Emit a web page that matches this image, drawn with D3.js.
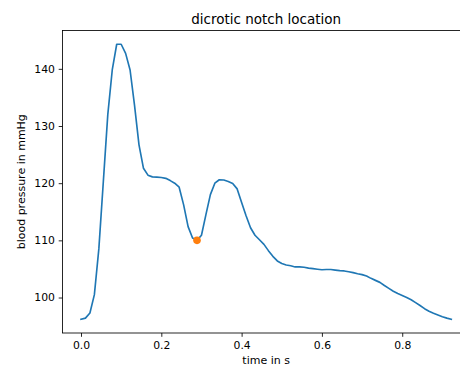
<!DOCTYPE html>
<html>
<head>
<meta charset="utf-8">
<script src="https://cdn.jsdelivr.net/npm/d3@7"></script>
<style>
  body { margin: 0; background: #fff; }
  text { font-family: "DejaVu Sans", sans-serif; fill: #000; }
</style>
</head>
<body>
<svg id="chart" width="460" height="367"></svg>
<script>
// sample times (s) and blood pressure readings (mmHg)
const times = [0, 0.0111, 0.0222, 0.0333, 0.0444, 0.0556, 0.0667, 0.0778, 0.0889, 0.1,
  0.1111, 0.1222, 0.1333, 0.1444, 0.1556, 0.1667, 0.1778, 0.1889, 0.2, 0.2111,
  0.2222, 0.2333, 0.2444, 0.2556, 0.2667, 0.2778, 0.2889, 0.3, 0.3111, 0.3222,
  0.3333, 0.3444, 0.3556, 0.3667, 0.3778, 0.3889, 0.4, 0.4111, 0.4222, 0.4333,
  0.4444, 0.4556, 0.4667, 0.4778, 0.4889, 0.5, 0.5111, 0.5222, 0.5333, 0.5444,
  0.5556, 0.5667, 0.5778, 0.5889, 0.6, 0.6111, 0.6222, 0.6333, 0.6444, 0.6556,
  0.6667, 0.6778, 0.6889, 0.7, 0.7111, 0.7222, 0.7333, 0.7444, 0.7556, 0.7667,
  0.7778, 0.7889, 0.8, 0.8111, 0.8222, 0.8333, 0.8444, 0.8556, 0.8667, 0.8778,
  0.8889, 0.9, 0.9111, 0.9222];
const pressure = [96.2, 96.4, 97.3, 100.5, 108.5, 120.3, 132.0, 139.8, 144.3, 144.3,
  142.7, 139.8, 133.6, 126.7, 122.6, 121.4, 121.1, 121.05, 121.0, 120.85,
  120.45, 120.0, 119.3, 116.2, 112.4, 110.4, 110.0, 110.9, 114.5, 118.0,
  120.0, 120.6, 120.55, 120.3, 119.95, 119.0, 116.6, 114.3, 112.2, 110.9,
  110.1, 109.3, 108.2, 107.2, 106.4, 105.95, 105.7, 105.55, 105.35, 105.35,
  105.3, 105.15, 105.05, 104.95, 104.85, 104.9, 104.9, 104.8, 104.7, 104.65,
  104.5, 104.35, 104.15, 104.0, 103.75, 103.35, 103.0, 102.65, 102.1, 101.6,
  101.1, 100.7, 100.35, 100.0, 99.6, 99.1, 98.6, 98.05, 97.6, 97.25,
  96.95, 96.65, 96.4, 96.2];
const notchTime = [0.2889];
const notchPressure = [110.0];
const xTicks = [0, 0.2, 0.4, 0.6, 0.8];
const yTicks = [100, 110, 120, 130, 140];

const svg = d3.select("#chart");
// axes box runs past the right edge, like the cropped original
const margin = { top: 30.5, left: 62.5, right: 469.8, bottom: 333 };

// matplotlib-style 5% padding
function padded(ext) {
  const s = ext[1] - ext[0];
  return [ext[0] - s * 0.05, ext[1] + s * 0.05];
}

const x = d3.scaleLinear()
  .domain(padded(d3.extent(times)))
  .range([margin.left, margin.right]);
const y = d3.scaleLinear()
  .domain(padded(d3.extent(pressure)))
  .range([margin.bottom, margin.top]);

// x axis
const xAxis = svg.append("g")
  .attr("transform", `translate(0, ${margin.bottom})`)
  .call(d3.axisBottom(x).tickValues(xTicks).tickFormat(d3.format(".1f"))
    .tickSize(3.8).tickSizeOuter(0).tickPadding(4.5));
xAxis.select(".domain").remove();
xAxis.selectAll(".tick line").attr("stroke", "#000").attr("stroke-width", 0.85);
xAxis.selectAll(".tick text").style("font-size", "10.8px").attr("fill", "#000");

// y axis
const yAxis = svg.append("g")
  .attr("transform", `translate(${margin.left}, 0)`)
  .call(d3.axisLeft(y).tickValues(yTicks)
    .tickSize(3.8).tickSizeOuter(0).tickPadding(3.8));
yAxis.select(".domain").remove();
yAxis.selectAll(".tick line").attr("stroke", "#000").attr("stroke-width", 0.85);
yAxis.selectAll(".tick text").style("font-size", "10.8px").attr("fill", "#000");

// frame
svg.append("rect")
  .attr("x", margin.left)
  .attr("y", margin.top)
  .attr("width", margin.right - margin.left)
  .attr("height", margin.bottom - margin.top)
  .attr("fill", "none")
  .attr("stroke", "#000")
  .attr("stroke-width", 0.85);

// pressure curve
const line = d3.line()
  .x((d, i) => x(times[i]))
  .y((d) => y(d));

svg.append("path")
  .datum(pressure)
  .attr("d", line)
  .attr("fill", "none")
  .attr("stroke", "#1f77b4")
  .attr("stroke-width", 1.65)
  .attr("stroke-linejoin", "round")
  .attr("stroke-linecap", "square");

// notch marker
svg.selectAll(".notch")
  .data(notchTime)
  .join("circle")
  .attr("class", "notch")
  .attr("cx", (d) => x(d))
  .attr("cy", (d, i) => y(notchPressure[i]))
  .attr("r", 3.8)
  .attr("fill", "#ff7f0e");

// title and labels
svg.append("text")
  .attr("x", (margin.left + margin.right) / 2)
  .attr("y", 24)
  .attr("text-anchor", "middle")
  .style("font-size", "13.5px")
  .text("dicrotic notch location");

svg.append("text")
  .attr("x", (margin.left + margin.right) / 2)
  .attr("y", 364)
  .attr("text-anchor", "middle")
  .style("font-size", "11px")
  .text("time in s");

svg.append("text")
  .attr("transform", `translate(24.5, ${(margin.top + margin.bottom) / 2}) rotate(-90)`)
  .attr("text-anchor", "middle")
  .style("font-size", "11px")
  .text("blood pressure in mmHg");
</script>
</body>
</html>
